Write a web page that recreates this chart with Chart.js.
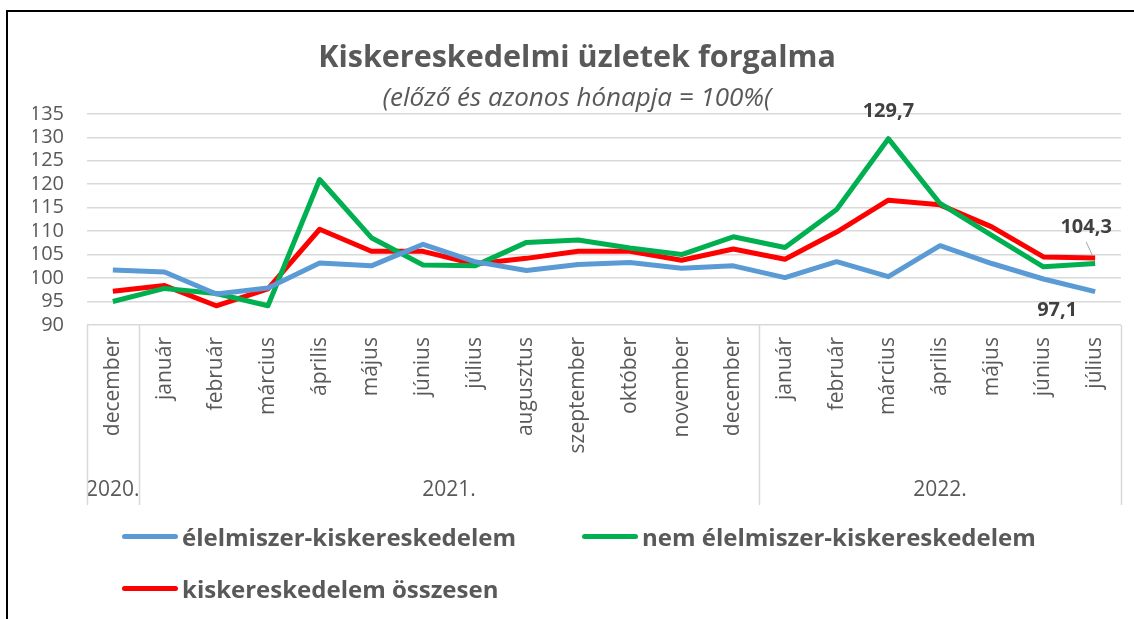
<!DOCTYPE html>
<html lang="hu">
<head>
<meta charset="UTF-8">
<title>Kiskereskedelmi üzletek forgalma</title>
<script src="https://cdn.jsdelivr.net/npm/chart.js"></script>
<style>
  body { margin: 0; overflow: hidden; background: #fff; font-family: "Open Sans", sans-serif; }
  #wrap { position: absolute; left: 0; top: 0; width: 1154px; height: 619px; }
  #frame { position: absolute; left: 6px; top: 10px; width: 1160px; height: 700px; border: 2px solid #000; border-right: none; }
  .leg { position: absolute; display: flex; align-items: center; height: 30px; font: bold 24px "Open Sans"; color: #595959; }
  .leg span.ln { display: inline-block; width: 56px; height: 5px; border-radius: 3px; margin-right: 4px; }
</style>
</head>
<body>
<div id="frame"></div>
<div id="wrap"><canvas id="chart" width="1154" height="619"></canvas></div>
<div id="legend"></div>

<script>
// havi adatok
const months = ['december', 'január', 'február', 'március', 'április', 'május', 'június', 'július',
  'augusztus', 'szeptember', 'október', 'november', 'december',
  'január', 'február', 'március', 'április', 'május', 'június', 'július'];
const years = ['2020.', '2021.', '2022.'];
const yearCounts = [1, 12, 7];

const elelmiszer = [101.7, 101.3, 96.6, 97.9, 103.2, 102.6, 107.2, 103.5, 101.6, 102.9, 103.3, 102.1, 102.6,
  100.1, 103.5, 100.3, 106.9, 103.1, 99.8, 97.1];
const nemElelmiszer = [95.0, 97.8, 96.7, 94.1, 121.0, 108.6, 102.8, 102.6, 107.6, 108.1, 106.4, 105.0, 108.8,
  106.5, 114.6, 129.7, 115.9, 109.1, 102.4, 103.1];
const osszesen = [97.2, 98.4, 94.1, 97.7, 110.4, 105.7, 105.7, 103.0, 104.2, 105.7, 105.7, 103.8, 106.2,
  104.0, 109.8, 116.6, 115.6, 110.9, 104.5, 104.3];

const seriesNames = ['élelmiszer-kiskereskedelem', 'nem élelmiszer-kiskereskedelem', 'kiskereskedelem összesen'];
const seriesColors = ['#5B9BD5', '#00B050', '#FF0000'];

// kiemelt értékek: [sorozat, index]
const highlighted = [[1, 15], [2, 19], [0, 19]];
const highlightOffsets = [[0, -27], [-9, -31], [-38, 19]];

const textColor = '#595959';
const gridColor = '#D9D9D9';

// évek sora a hónapok alatt
const yearRowPlugin = {
  id: 'yearRow',
  afterDraw(chart) {
    const ctx = chart.ctx;
    const x = chart.scales.x;
    const top = chart.chartArea.bottom;
    const bottom = 505;
    ctx.save();
    ctx.strokeStyle = gridColor;
    ctx.lineWidth = 1.5;
    let start = 0;
    const edges = [-0.5];
    years.forEach((y, i) => {
      const end = start + yearCounts[i] - 1;
      edges.push(end + 0.5);
      const cx = (x.getPixelForValue(start) + x.getPixelForValue(end)) / 2;
      ctx.fillStyle = textColor;
      ctx.font = '21px "Open Sans"';
      ctx.textAlign = 'center';
      ctx.textBaseline = 'middle';
      ctx.fillText(y, cx, 490);
      start = end + 1;
    });
    edges.forEach(e => {
      const px = Math.round(x.getPixelForValue(e)) + 0.5;
      ctx.beginPath();
      ctx.moveTo(px, top);
      ctx.lineTo(px, bottom);
      ctx.stroke();
    });
    ctx.restore();
  }
};

// adatcímkék
const valueLabelPlugin = {
  id: 'valueLabels',
  afterDatasetsDraw(chart) {
    const ctx = chart.ctx;
    ctx.save();
    ctx.font = 'bold 20px "Open Sans"';
    ctx.fillStyle = '#404040';
    ctx.textAlign = 'center';
    ctx.textBaseline = 'middle';
    highlighted.forEach(([ds, idx], k) => {
      const pt = chart.getDatasetMeta(ds).data[idx];
      const v = chart.data.datasets[ds].data[idx];
      const [dx, dy] = highlightOffsets[k];
      const lx = pt.x + dx, ly = pt.y + dy;
      ctx.fillText(v.toFixed(1).replace('.', ','), lx, ly);
      if (ds === 2) {
        ctx.strokeStyle = '#A6A6A6';
        ctx.lineWidth = 1;
        ctx.beginPath();
        ctx.moveTo(lx, ly + 15);
        ctx.lineTo(pt.x - 3, pt.y - 3);
        ctx.stroke();
      }
    });
    ctx.restore();
  }
};

const chart = new Chart(document.getElementById('chart'), {
  type: 'line',
  data: {
    labels: months,
    datasets: [elelmiszer, nemElelmiszer, osszesen].map((d, i) => ({
      label: seriesNames[i],
      data: d,
      borderColor: seriesColors[i],
      backgroundColor: seriesColors[i],
      borderWidth: 5,
      pointRadius: 0,
      tension: 0,
      borderJoinStyle: 'round'
    }))
  },
  options: {
    responsive: false,
    animation: false,
    layout: { padding: { left: 33, right: 33, top: 0, bottom: 0 } },
    plugins: {
      legend: { display: false },
      tooltip: { enabled: false },
      title: {
        display: true,
        text: 'Kiskereskedelmi üzletek forgalma',
        color: textColor,
        font: { family: 'Open Sans', size: 30.5, weight: 'bold' },
        padding: { top: 40, bottom: 6 }
      },
      subtitle: {
        display: true,
        text: '(előző és azonos hónapja = 100%(',
        color: textColor,
        font: { family: 'Open Sans', size: 26, style: 'italic' },
        padding: { top: 0, bottom: 0 }
      }
    },
    scales: {
      x: {
        offset: true,
        grid: { display: false, drawTicks: false },
        border: { display: false },
        ticks: {
          autoSkip: false,
          maxRotation: 90,
          minRotation: 90,
          padding: 12,
          color: textColor,
          font: { family: 'Open Sans', size: 21 }
        },
        afterFit(scale) { scale.height = 294; }
      },
      y: {
        min: 90,
        max: 135,
        grid: { color: gridColor, lineWidth: 1.5, drawTicks: false },
        border: { display: false },
        ticks: {
          stepSize: 5,
          autoSkip: false,
          padding: 23,
          color: textColor,
          font: { family: 'Open Sans', size: 20 }
        },
        afterFit(scale) { scale.width = 54; }
      }
    }
  },
  plugins: [yearRowPlugin, valueLabelPlugin]
});

// jelmagyarázat
const legendPos = [[122, 521], [582, 521], [122, 573]];
const legend = document.getElementById('legend');
seriesNames.forEach((name, i) => {
  const item = document.createElement('div');
  item.className = 'leg';
  item.style.left = legendPos[i][0] + 'px';
  item.style.top = legendPos[i][1] + 'px';
  item.innerHTML = '<span class="ln" style="background:' + seriesColors[i] + '"></span>' + name;
  legend.appendChild(item);
});
</script>
</body>
</html>
